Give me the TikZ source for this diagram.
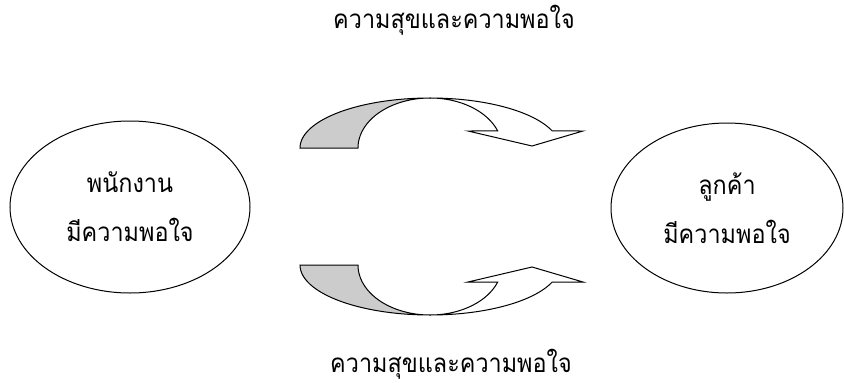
\documentclass[tikz,border=0pt]{standalone}
\usepackage{fontspec}
\newfontfamily\thaifont[Script=Thai,FakeStretch=0.9]{Loma}
\usetikzlibrary{shapes.geometric}
\definecolor{shade}{HTML}{CCCCCC}
\tikzset{
  oval/.style={ellipse, draw, line width=1pt, inner sep=0pt, align=center,
    font=\thaifont\fontsize{26}{49}\selectfont},
  lbl/.style={inner sep=0pt, font=\thaifont\fontsize{26}{30}\selectfont},
  band/.style={draw, line width=1pt, line join=miter},
}
\begin{document}
\begin{tikzpicture}[x=1pt,y=-1pt]
\useasboundingbox (0,0) rectangle (844,383);
% ellipses
\node[oval, minimum width=240pt, minimum height=172pt] (emp) at (130,207) {พนักงาน\\มีความพอใจ};
\node[oval, minimum width=232pt, minimum height=170pt] (cus) at (727,208) {ลูกค้า\\มีความพอใจ};
% labels
\node[lbl] (top) at (454,20) {ความสุขและความพอใจ};
\node[lbl] (bot) at (451,364) {ความสุขและความพอใจ};
% top curved arrow
\def\th{19.9}
\filldraw[band, fill=shade]
  plot[domain=180:90, samples=40] ({430+130*cos(\x)},{148-50*sin(\x)})
  -- plot[domain=90:180, samples=40] ({430+72*cos(\x)},{148-50*sin(\x)}) -- cycle;
\filldraw[band, fill=white]
  plot[domain=90:\th, samples=40] ({430+130*cos(\x)},{148-50*sin(\x)})
  -- (583,131) -- (532,146) -- (468,131)
  -- plot[domain=\th:90, samples=40] ({430+72*cos(\x)},{148-50*sin(\x)}) -- cycle;
% bottom curved arrow
\filldraw[band, fill=shade]
  plot[domain=180:90, samples=40] ({430+130*cos(\x)},{265+50*sin(\x)})
  -- plot[domain=90:180, samples=40] ({430+72*cos(\x)},{265+50*sin(\x)}) -- cycle;
\filldraw[band, fill=white]
  plot[domain=90:\th, samples=40] ({430+130*cos(\x)},{265+50*sin(\x)})
  -- (583,282) -- (532,267) -- (468,282)
  -- plot[domain=\th:90, samples=40] ({430+72*cos(\x)},{265+50*sin(\x)}) -- cycle;
\end{tikzpicture}
\end{document}
